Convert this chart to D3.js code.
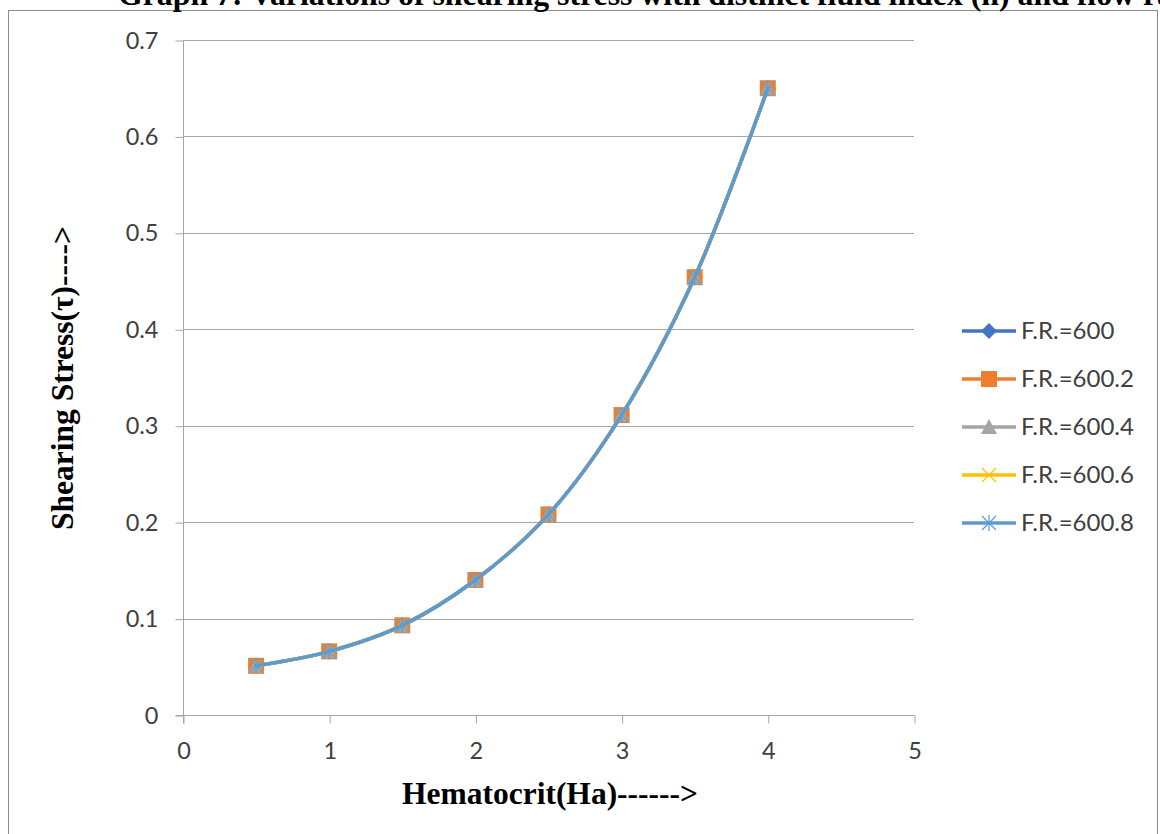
<!DOCTYPE html>
<html>
<head>
<meta charset="utf-8">
<script src="https://cdn.jsdelivr.net/npm/d3@7"></script>
<style>
  html, body { margin: 0; padding: 0; background: #fff; }
  svg { display: block; }
</style>
</head>
<body>
<svg id="chart" width="1160" height="834"></svg>
<script>
// Hematocrit values on the x axis
const hematocrit = [0.5, 1, 1.5, 2, 2.5, 3, 3.5, 4];

// Shearing stress for each flow rate (curves practically coincide)
const stressFR600   = [0.051, 0.066, 0.093, 0.140, 0.208, 0.311, 0.454, 0.650];
const stressFR6002  = [0.051, 0.066, 0.093, 0.140, 0.208, 0.311, 0.454, 0.650];
const stressFR6004  = [0.051, 0.066, 0.093, 0.140, 0.208, 0.311, 0.454, 0.650];
const stressFR6006  = [0.051, 0.066, 0.093, 0.140, 0.208, 0.311, 0.454, 0.650];
const stressFR6008  = [0.051, 0.066, 0.093, 0.140, 0.208, 0.311, 0.454, 0.650];

const seriesNames = ["F.R.=600", "F.R.=600.2", "F.R.=600.4", "F.R.=600.6", "F.R.=600.8"];
const seriesValues = [stressFR600, stressFR6002, stressFR6004, stressFR6006, stressFR6008];
const seriesColors = ["#4472C4", "#ED7D31", "#A5A5A5", "#FFC000", "#5B9BD5"];
const seriesMarkers = ["diamond", "square", "triangle", "x", "star"];

const xTicks = [0, 1, 2, 3, 4, 5];
const yTicks = [0, 0.1, 0.2, 0.3, 0.4, 0.5, 0.6, 0.7];

const svg = d3.select("#chart");
const plot = { left: 183, right: 914, top: 40, bottom: 715 };

const x = d3.scaleLinear().domain([0, 5]).range([plot.left, plot.right]);
const y = d3.scaleLinear().domain([0, 0.7]).range([plot.bottom, plot.top]);

const tickFont = "Lato, 'Open Sans', sans-serif";
const serif = "'Liberation Serif', 'Times New Roman', serif";

// outer chart frame
svg.append("rect")
  .attr("x", 8.5).attr("y", 10.5)
  .attr("width", 1149).attr("height", 840)
  .attr("fill", "none").attr("stroke", "#8c8c8c").attr("stroke-width", 1);

// title (runs past the top and right edges of the page)
svg.append("text")
  .attr("x", 118).attr("y", 5)
  .attr("font-family", serif).attr("font-weight", "bold").attr("font-size", 31.8)
  .attr("fill", "#000")
  .text("Graph 7: Variations of shearing stress with distinct fluid index (n) and flow rate (F.R.)");

// horizontal gridlines
svg.append("g")
  .selectAll("line")
  .data(yTicks.filter(d => d > 0))
  .join("line")
  .attr("x1", plot.left).attr("x2", plot.right)
  .attr("y1", d => Math.round(y(d)) + 0.5).attr("y2", d => Math.round(y(d)) + 0.5)
  .attr("stroke", "#a6a6a6").attr("stroke-width", 1);

// y axis
const yAxis = svg.append("g")
  .attr("transform", `translate(${plot.left + 0.5},0.5)`)
  .call(d3.axisLeft(y).tickValues(yTicks).tickSize(8).tickPadding(17)
    .tickFormat(d => d === 0 ? "0" : d3.format(".1f")(d)));
yAxis.select(".domain").attr("stroke", "#a6a6a6").attr("d", `M0,${plot.top - 0.5}V${plot.bottom + 8}`);
yAxis.selectAll(".tick line").attr("stroke", "#a6a6a6");
yAxis.selectAll(".tick text")
  .attr("font-family", tickFont).attr("font-size", 23.5).attr("fill", "#404040");

// x axis
const xAxis = svg.append("g")
  .attr("transform", `translate(0.5,${plot.bottom + 0.5})`)
  .call(d3.axisBottom(x).tickValues(xTicks).tickSize(8).tickPadding(19).tickFormat(d3.format("d")));
xAxis.select(".domain").attr("stroke", "#a6a6a6").attr("d", `M${plot.left - 8},0H${plot.right}`);
xAxis.selectAll(".tick line").attr("stroke", "#a6a6a6");
xAxis.selectAll(".tick text")
  .attr("font-family", tickFont).attr("font-size", 23.5).attr("fill", "#404040");

// axis titles
svg.append("text")
  .attr("transform", "translate(73,378) rotate(-90)")
  .attr("text-anchor", "middle")
  .attr("font-family", serif).attr("font-weight", "bold").attr("font-size", 31.5)
  .text("Shearing Stress(τ)---->");

svg.append("text")
  .attr("x", 550).attr("y", 804)
  .attr("text-anchor", "middle")
  .attr("font-family", serif).attr("font-weight", "bold").attr("font-size", 31.5)
  .text("Hematocrit(Ha)------>");

// marker drawing helper
function drawMarker(g, kind, color) {
  if (kind === "diamond") {
    g.append("path").attr("d", "M0,-8L8,0L0,8L-8,0Z").attr("fill", color);
  } else if (kind === "square") {
    g.append("rect").attr("x", -8).attr("y", -8).attr("width", 16).attr("height", 16).attr("fill", color);
  } else if (kind === "triangle") {
    g.append("path").attr("d", "M0,-8L8,7L-8,7Z").attr("fill", color);
  } else if (kind === "x") {
    g.append("path").attr("d", "M-7,-7L7,7M7,-7L-7,7").attr("stroke", color).attr("stroke-width", 1.2).attr("fill", "none");
  } else if (kind === "star") {
    g.append("path").attr("d", "M-7,-7L7,7M7,-7L-7,7M0,-8V8").attr("stroke", color).attr("stroke-width", 1.2).attr("fill", "none");
  }
}

// series lines (smoothed) and markers
const line = d3.line()
  .x((d, i) => x(hematocrit[i]))
  .y(d => y(d))
  .curve(d3.curveCatmullRom.alpha(0.5));

seriesValues.forEach((vals, s) => {
  const g = svg.append("g");
  g.append("path")
    .attr("d", line(vals))
    .attr("fill", "none")
    .attr("stroke", seriesColors[s])
    .attr("stroke-width", 3.5)
    .attr("stroke-linecap", "round");
  vals.forEach((v, i) => {
    const m = g.append("g").attr("transform", `translate(${x(hematocrit[i])},${y(v)})`);
    drawMarker(m, seriesMarkers[s], seriesColors[s]);
  });
});

// legend
const legend = svg.append("g");
seriesNames.forEach((name, s) => {
  const ly = 331 + s * 48;
  const row = legend.append("g").attr("transform", `translate(0,${ly})`);
  row.append("line").attr("x1", 962).attr("x2", 1016).attr("y1", 0).attr("y2", 0)
    .attr("stroke", seriesColors[s]).attr("stroke-width", 3.5);
  const m = row.append("g").attr("transform", "translate(989,0)");
  drawMarker(m, seriesMarkers[s], seriesColors[s]);
  row.append("text").attr("x", 1021).attr("y", 8)
    .attr("font-family", tickFont).attr("font-size", 24).attr("fill", "#404040")
    .text(name);
});
</script>
</body>
</html>
